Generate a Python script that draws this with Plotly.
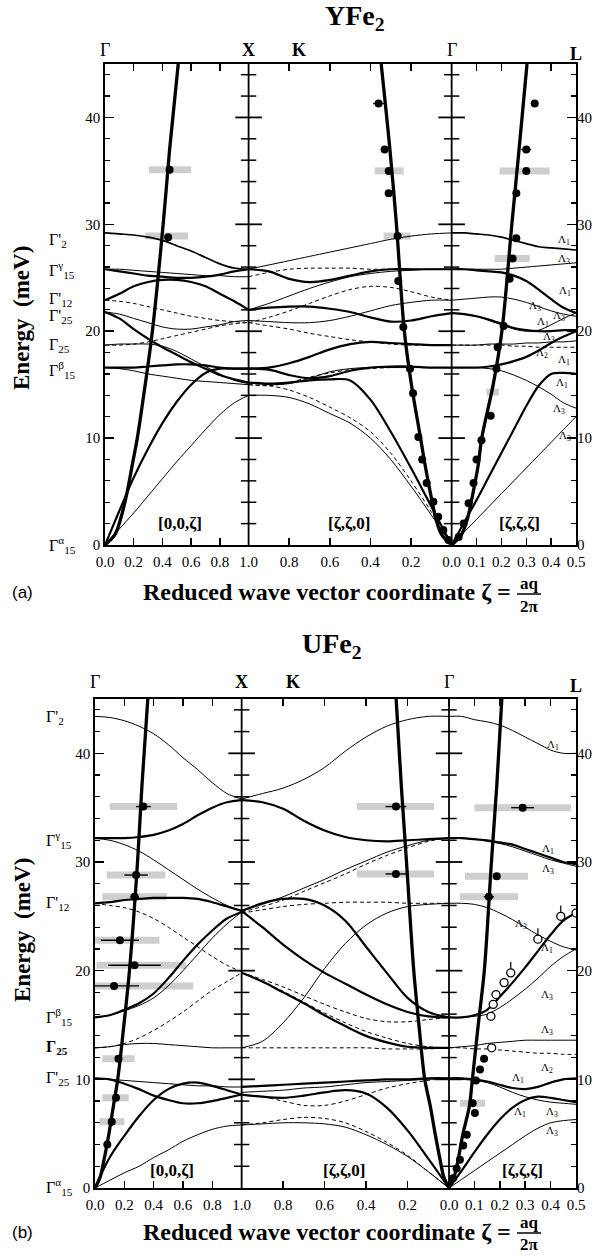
import numpy as np
import plotly.graph_objects as go

SQ2, SQ3 = np.sqrt(2.0), np.sqrt(3.0)
S_X = 1.0
S_G = 1.0 + SQ2
S_L = S_G + 0.5 * SQ3


def s_of(p, z):
    z = np.asarray(z, float)
    if p == 0:
        return z
    if p == 1:
        return 1.0 + (1.0 - z) * SQ2
    return S_G + z * SQ3


# zeta grids of the three directions: [0,0,z] G->X, [z,z,0] X(K)->G, [z,z,z] G->L
Z1 = [0.0, 0.1, 0.2, 0.3, 0.4, 0.5, 0.6, 0.7, 0.8, 0.9, 1.0]
Z2 = [1.0, 0.9, 0.8, 0.7, 0.6, 0.5, 0.4, 0.3, 0.2, 0.1, 0.0]
Z3 = [0.0, 0.05, 0.1, 0.15, 0.2, 0.25, 0.3, 0.35, 0.4, 0.45, 0.5]
GRIDS = [Z1, Z2, Z3]

# ---------------- YFe2 phonon branches (meV) ----------------
YFE2_P1 = [
    ('med',  [29.2, 29.1, 29.0, 28.8, 28.5, 28.0, 27.5, 26.9, 26.3, 25.9, 25.8]),
    ('thin', [25.8, 25.8, 25.7, 25.6, 25.5, 25.4, 25.3, 25.2, 25.2, 25.1, 25.1]),
    ('thick', [25.8, 25.6, 25.4, 25.2, 25.1, 25.0, 25.0, 25.1, 25.3, 25.6, 25.8]),
    ('thick', [22.9, 23.5, 24.2, 24.6, 24.8, 24.8, 24.6, 24.2, 23.5, 22.8, 22.0]),
    ('dash', [22.9, 22.8, 22.6, 22.3, 22.0, 21.7, 21.4, 21.2, 21.0, 20.9, 20.8]),
    ('thin', [21.8, 21.6, 21.2, 20.8, 20.4, 20.2, 20.2, 20.4, 20.6, 20.9, 21.0]),
    ('thick', [21.8, 21.2, 20.2, 19.3, 18.5, 17.8, 17.1, 16.5, 15.9, 15.5, 15.2]),
    ('dash', [18.7, 18.7, 18.8, 19.0, 19.3, 19.6, 19.9, 20.2, 20.5, 20.7, 20.8]),
    ('thin', [18.7, 18.8, 18.8, 18.8, 18.6, 18.1, 17.4, 16.7, 16.0, 15.4, 15.1]),
    ('thick', [16.6, 16.6, 16.6, 16.7, 16.8, 16.9, 16.9, 16.8, 16.6, 16.5, 16.5]),
    ('thin', [16.6, 16.5, 16.3, 16.0, 15.8, 15.6, 15.4, 15.3, 15.2, 15.1, 15.0]),
    ('thick', [0.0, 3.2, 6.3, 9.0, 11.4, 13.4, 15.0, 16.1, 16.5, 16.5, 16.5]),
    ('thin', [0.0, 1.5, 3.0, 4.6, 6.2, 7.8, 9.3, 10.8, 12.2, 13.3, 14.0]),
]
YFE2_P2 = [
    ('thin', [25.8, 26.2, 26.6, 27.0, 27.4, 27.8, 28.2, 28.6, 28.9, 29.1, 29.2]),
    ('thick', [25.8, 25.6, 24.9, 24.6, 24.8, 25.2, 25.6, 25.8, 25.8, 25.8, 25.8]),
    ('dash', [25.1, 25.5, 25.8, 25.9, 25.9, 25.9, 25.8, 25.8, 25.8, 25.8, 25.8]),
    ('thin', [22.0, 22.6, 23.3, 24.0, 24.6, 25.1, 25.4, 25.6, 25.7, 25.8, 25.8]),
    ('dash', [20.8, 21.3, 21.9, 22.6, 23.3, 23.9, 24.2, 24.1, 23.7, 23.2, 22.9]),
    ('thin', [21.0, 20.9, 20.8, 20.8, 21.0, 21.4, 21.9, 22.4, 22.7, 22.9, 22.9]),
    ('thick', [22.0, 22.2, 22.3, 22.3, 22.1, 21.8, 21.3, 20.9, 21.0, 21.4, 21.7]),
    ('dash', [20.8, 20.5, 20.2, 19.8, 19.5, 19.2, 19.0, 18.8, 18.7, 18.7, 18.7]),
    ('thick', [16.5, 16.6, 17.0, 17.6, 18.3, 18.8, 19.0, 18.9, 18.8, 18.7, 18.7]),
    ('thin', [15.2, 15.0, 15.1, 15.6, 16.2, 16.5, 16.6, 16.6, 16.6, 16.6, 16.6]),
    ('dash', [15.0, 14.9, 15.2, 15.7, 16.1, 16.4, 16.5, 16.6, 16.6, 16.6, 16.6]),
    ('thick', [16.5, 16.4, 15.9, 15.6, 15.8, 16.3, 16.6, 16.7, 16.7, 16.6, 16.6]),
    ('thick', [15.2, 15.1, 15.2, 15.4, 15.5, 15.4, 13.6, 10.6, 7.2, 3.6, 0.0]),
    ('dash', [15.0, 14.9, 14.5, 13.8, 12.9, 11.9, 10.6, 8.6, 6.0, 3.1, 0.0]),
    ('thin', [14.0, 14.0, 13.8, 13.2, 12.3, 11.4, 10.0, 8.0, 5.5, 2.8, 0.0]),
]
YFE2_P3 = [
    ('med',  [29.2, 29.2, 29.1, 29.0, 28.8, 28.5, 28.2, 27.9, 27.8, 27.7, 27.6]),
    ('thin', [25.8, 25.8, 25.8, 25.8, 25.8, 25.9, 26.0, 26.1, 26.2, 26.3, 26.4]),
    ('thick', [25.8, 25.8, 25.7, 25.6, 25.5, 25.2, 24.7, 23.9, 23.0, 22.2, 21.7]),
    ('thin', [22.9, 23.0, 23.1, 23.2, 23.2, 23.0, 22.7, 22.3, 21.9, 21.6, 21.4]),
    ('thick', [21.7, 21.6, 21.4, 21.1, 20.7, 20.3, 20.1, 20.0, 20.0, 20.1, 20.1]),
    ('thin', [21.7, 21.6, 21.4, 21.0, 20.6, 20.2, 20.0, 20.1, 20.6, 21.2, 21.7]),
    ('thin', [18.7, 18.7, 18.7, 18.8, 18.8, 18.8, 18.9, 18.9, 19.0, 19.0, 19.1]),
    ('dash', [18.7, 18.7, 18.7, 18.7, 18.7, 18.6, 18.6, 18.5, 18.5, 18.5, 18.5]),
    ('thin', [16.6, 16.6, 16.6, 16.5, 16.3, 15.9, 15.4, 14.8, 14.1, 13.3, 12.8]),
    ('thick', [16.6, 16.6, 16.6, 16.7, 16.9, 17.2, 17.6, 18.2, 18.9, 19.5, 20.0]),
    ('thick', [0.0, 2.1, 4.2, 6.4, 8.6, 10.8, 13.0, 14.9, 16.0, 16.1, 16.0]),
    ('thin', [0.0, 1.2, 2.4, 3.6, 4.8, 6.0, 7.2, 8.4, 9.6, 10.8, 12.0]),
]

# ---------------- UFe2 phonon branches (meV) ----------------
UFE2_P1 = [
    ('thin', [43.4, 43.3, 43.0, 42.5, 41.8, 40.8, 39.6, 38.5, 37.3, 36.3, 35.8]),
    ('thick', [32.2, 32.2, 32.2, 32.3, 32.5, 32.9, 33.5, 34.3, 35.0, 35.5, 35.7]),
    ('thin', [32.2, 32.0, 31.6, 31.0, 30.2, 29.3, 28.4, 27.5, 26.7, 26.0, 25.5]),
    ('thick', [26.2, 26.3, 26.5, 26.6, 26.7, 26.7, 26.7, 26.6, 26.3, 25.9, 25.5]),
    ('dash', [26.2, 26.0, 25.8, 25.4, 24.8, 24.0, 23.1, 22.2, 21.3, 20.5, 19.9]),
    ('thick', [15.7, 15.9, 16.4, 17.0, 17.9, 19.3, 20.9, 22.4, 23.7, 24.8, 25.4]),
    ('thin', [15.7, 15.9, 16.3, 16.8, 17.5, 18.6, 20.0, 21.5, 23.0, 24.3, 25.4]),
    ('dash', [12.9, 13.0, 13.3, 13.8, 14.5, 15.3, 16.2, 17.2, 18.2, 19.0, 19.8]),
    ('thin', [12.9, 13.0, 13.2, 13.3, 13.3, 13.2, 13.1, 13.0, 12.9, 12.9, 12.9]),
    ('thick', [10.1, 10.0, 9.6, 9.1, 8.5, 8.1, 7.8, 7.8, 8.0, 8.3, 8.6]),
    ('thin', [10.1, 10.0, 9.9, 9.8, 9.7, 9.6, 9.5, 9.4, 9.4, 9.3, 9.3]),
    ('thick', [0.0, 2.8, 4.8, 6.6, 8.1, 9.1, 9.6, 9.7, 9.4, 9.0, 8.6]),
    ('thin', [0.0, 0.7, 1.4, 2.0, 2.8, 3.5, 4.3, 4.9, 5.4, 5.7, 5.8]),
]
UFE2_P2 = [
    ('thin', [35.8, 36.3, 36.8, 37.6, 38.7, 40.2, 41.5, 42.5, 43.1, 43.4, 43.4]),
    ('thick', [35.7, 35.5, 34.9, 33.8, 32.9, 32.3, 32.0, 31.9, 32.0, 32.1, 32.2]),
    ('thin', [25.5, 26.1, 26.8, 27.6, 28.4, 29.3, 30.1, 30.9, 31.5, 32.0, 32.2]),
    ('dash', [25.4, 25.9, 26.5, 27.3, 28.1, 28.9, 29.8, 30.6, 31.3, 31.9, 32.2]),
    ('thick', [25.5, 26.2, 26.6, 26.6, 26.0, 24.6, 22.2, 19.8, 17.5, 16.2, 15.7]),
    ('dash', [25.3, 25.6, 25.9, 26.1, 26.2, 26.3, 26.3, 26.3, 26.2, 26.2, 26.2]),
    ('thin', [12.9, 13.5, 15.2, 17.5, 20.2, 22.5, 24.2, 25.3, 25.9, 26.1, 26.2]),
    ('thick', [25.5, 24.0, 22.4, 21.0, 19.8, 18.8, 17.8, 16.9, 16.2, 15.8, 15.7]),
    ('thick', [19.8, 19.0, 18.0, 17.0, 15.9, 14.9, 14.0, 13.4, 13.0, 12.9, 12.9]),
    ('dash', [19.8, 19.2, 18.5, 17.7, 16.9, 16.2, 15.6, 15.3, 15.3, 15.5, 15.7]),
    ('dash', [19.8, 19.0, 18.1, 17.1, 16.1, 15.2, 14.4, 13.8, 13.3, 13.0, 12.9]),
    ('dash', [12.9, 12.9, 12.9, 12.9, 12.9, 12.9, 12.9, 12.8, 12.8, 12.8, 12.9]),
    ('thick', [9.3, 9.4, 9.5, 9.6, 9.7, 9.8, 9.9, 10.0, 10.0, 10.1, 10.1]),
    ('thin', [8.8, 8.9, 9.0, 9.2, 9.3, 9.5, 9.7, 9.8, 9.9, 10.0, 10.1]),
    ('dash', [8.6, 8.4, 8.0, 7.6, 7.6, 8.0, 8.6, 9.2, 9.6, 9.9, 10.1]),
    ('thick', [8.6, 8.4, 8.3, 8.5, 8.8, 9.0, 8.7, 7.4, 5.3, 2.7, 0.0]),
    ('thin', [5.8, 5.9, 6.0, 6.0, 5.9, 5.6, 4.9, 4.0, 2.9, 1.5, 0.0]),
    ('dash', [5.8, 6.0, 6.3, 6.5, 6.4, 6.0, 5.2, 4.2, 3.0, 1.5, 0.0]),
]
UFE2_P3 = [
    ('thin', [43.4, 43.4, 43.1, 42.9, 42.6, 42.1, 41.5, 40.9, 40.3, 40.0, 40.0]),
    ('thick', [32.2, 32.2, 32.1, 32.0, 31.8, 31.6, 31.2, 30.8, 30.4, 30.0, 29.8]),
    ('thin', [32.2, 32.2, 32.1, 31.9, 31.7, 31.4, 31.0, 30.6, 30.2, 29.9, 29.6]),
    ('thin', [26.2, 26.2, 26.1, 25.8, 25.3, 24.7, 24.0, 23.3, 22.7, 22.2, 21.9]),
    ('thick', [15.7, 15.7, 15.9, 16.4, 17.6, 18.9, 20.3, 21.8, 23.3, 24.6, 25.3]),
    ('thin', [15.7, 15.7, 15.8, 16.0, 16.6, 17.4, 18.3, 19.3, 20.4, 21.3, 22.0]),
    ('thin', [12.9, 13.0, 13.1, 13.3, 13.4, 13.5, 13.6, 13.6, 13.6, 13.6, 13.6]),
    ('dash', [12.9, 12.9, 12.8, 12.8, 12.7, 12.6, 12.5, 12.4, 12.4, 12.3, 12.3]),
    ('thick', [10.1, 10.1, 10.0, 9.8, 9.5, 9.2, 9.1, 9.3, 9.7, 10.0, 10.1]),
    ('thin', [10.1, 10.0, 9.9, 9.7, 9.3, 8.8, 8.4, 8.1, 7.9, 7.8, 7.7]),
    ('thick', [0.0, 1.6, 3.3, 4.9, 6.3, 7.4, 8.1, 8.4, 8.3, 8.1, 7.9]),
    ('thin', [0.0, 0.8, 1.6, 2.4, 3.2, 4.0, 4.8, 5.5, 6.0, 6.2, 6.3]),
]

# ---------------- spin-wave (magnon) dispersion ----------------
MAG_A_E = [0, 1, 2.5, 5, 7.5, 10, 15, 20, 30, 37, 45]
MAG_A_Z1 = [0, 0.07, 0.11, 0.155, 0.19, 0.225, 0.28, 0.33, 0.405, 0.45, 0.51]
MAG_A_Z2 = [0, 0.05, 0.078, 0.106, 0.131, 0.153, 0.198, 0.233, 0.272, 0.304, 0.347]
MAG_A_Z3 = [0, 0.04, 0.064, 0.087, 0.107, 0.121, 0.167, 0.202, 0.242, 0.271, 0.303]
MAG_B_E = [0, 1, 2.5, 5, 7.5, 10, 15, 20, 30, 37, 45]
MAG_B_Z1 = [0, 0.035, 0.06, 0.095, 0.125, 0.155, 0.197, 0.235, 0.29, 0.32, 0.36]
MAG_B_Z2 = [0, 0.025, 0.042, 0.067, 0.09, 0.117, 0.145, 0.17, 0.205, 0.23, 0.255]
MAG_B_Z3 = [0, 0.02, 0.035, 0.055, 0.08, 0.092, 0.115, 0.139, 0.167, 0.188, 0.208]

# ---------------- measured points (zeta, E, horizontal error in zeta) ----------------
PTS_A1_Z = [0.44, 0.45]
PTS_A1_E = [28.8, 35.1]
PTS_A1_DZ = [0, 0]
PTS_A2_Z = [0.36, 0.33, 0.31, 0.31, 0.266, 0.263, 0.238, 0.205, 0.19, 0.164, 0.145, 0.123, 0.09, 0.066, 0.041, 0.016]
PTS_A2_E = [41.3, 37.0, 35.0, 32.9, 28.9, 24.7, 20.4, 16.5, 14.2, 10.1, 8.0, 5.8, 4.05, 2.65, 1.4, 0.47]
PTS_A2_DZ = [0.027, 0, 0, 0, 0, 0, 0, 0, 0, 0, 0, 0, 0, 0, 0, 0]
PTS_A3_Z = [0.334, 0.30, 0.30, 0.26, 0.26, 0.245, 0.233, 0.209, 0.185, 0.18, 0.157, 0.12, 0.10, 0.088, 0.068, 0.048, 0.028]
PTS_A3_E = [41.3, 37.0, 35.0, 32.9, 28.7, 26.8, 24.9, 20.5, 18.5, 16.5, 12.1, 9.8, 8.0, 5.8, 3.9, 2.0, 0.75]
PTS_A3_DZ = [0, 0.02, 0, 0, 0, 0, 0, 0, 0, 0, 0, 0, 0, 0, 0, 0, 0]

PTS_B1_Z = [0.33, 0.28, 0.27, 0.17, 0.27, 0.13, 0.16, 0.143, 0.114, 0.084]
PTS_B1_E = [35.1, 28.8, 26.8, 22.8, 20.5, 18.6, 11.9, 8.3, 6.1, 4.0]
PTS_B1_DZ = [0.05, 0.08, 0.03, 0.13, 0.18, 0.17, 0, 0, 0, 0]
PTS_B2_Z = [0.256, 0.256]
PTS_B2_E = [35.1, 28.9]
PTS_B2_DZ = [0.05, 0.05]
PTS_B3_Z = [0.29, 0.188, 0.157, 0.138, 0.122, 0.106, 0.102, 0.093, 0.07, 0.056, 0.043, 0.03, 0.016]
PTS_B3_E = [35.0, 28.7, 26.8, 11.9, 10.9, 9.9, 6.9, 7.8, 4.9, 3.9, 2.6, 1.8, 0.9]
PTS_B3_DZ = [0.045, 0, 0.02, 0, 0, 0, 0, 0, 0, 0, 0, 0, 0]
OPEN_B3_Z = [0.5, 0.44, 0.35, 0.243, 0.217, 0.185, 0.174, 0.165, 0.168]
OPEN_B3_E = [25.3, 25.0, 22.9, 19.8, 18.9, 17.8, 16.9, 15.8, 12.9]
OPEN_B3_UP = [0, 1.0, 1.0, 1.0, 0, 0, 0, 0, 0]

# ---------------- resolution boxes (panel, E, zeta_lo, zeta_hi) ----------------
BOX_A = [(0, 35.1, 0.306, 0.60), (0, 28.9, 0.279, 0.578),
         (1, 35.0, 0.236, 0.379), (1, 28.9, 0.202, 0.335),
         (2, 35.0, 0.193, 0.394), (2, 26.8, 0.173, 0.314), (2, 14.3, 0.14, 0.19)]
BOX_B = [(0, 35.1, 0.10, 0.56), (0, 28.8, 0.08, 0.48), (0, 26.8, 0.05, 0.49),
         (0, 22.8, 0.0, 0.44), (0, 20.5, 0.01, 0.62), (0, 18.6, 0.0, 0.67),
         (0, 11.9, 0.05, 0.27), (0, 8.3, 0.05, 0.23), (0, 6.1, 0.03, 0.20),
         (1, 35.1, 0.072, 0.444), (1, 28.9, 0.072, 0.444),
         (2, 35.0, 0.10, 0.48), (2, 28.7, 0.063, 0.311), (2, 26.8, 0.043, 0.272),
         (2, 7.8, 0.043, 0.142)]

# ---------------- labels ----------------
GAMMA_A_T = ["Γ'<sub>2</sub>", "Γ<sup>γ</sup><sub>15</sub>", "Γ'<sub>12</sub>", "Γ'<sub>25</sub>",
             "Γ<sub>25</sub>", "Γ<sup>β</sup><sub>15</sub>", "Γ<sup>α</sup><sub>15</sub>"]
GAMMA_A_E = [28.5, 25.7, 23.0, 21.4, 18.7, 16.4, 0.0]
GAMMA_B_T = ["Γ'<sub>2</sub>", "Γ<sup>γ</sup><sub>15</sub>", "Γ'<sub>12</sub>", "Γ<sup>β</sup><sub>15</sub>",
             "<b>Γ<sub>25</sub></b>", "Γ'<sub>25</sub>", "Γ<sup>α</sup><sub>15</sub>"]
GAMMA_B_E = [43.3, 32.0, 26.2, 15.7, 12.9, 10.1, 0.1]

LAM_A_Z = [0.45, 0.45, 0.455, 0.334, 0.366, 0.43, 0.39, 0.362, 0.45, 0.442, 0.43, 0.455]
LAM_A_E = [28.5, 26.8, 23.8, 22.4, 20.9, 21.4, 19.5, 18.0, 17.3, 15.2, 12.7, 10.2]
LAM_A_T = ['1', '3', '1', '3', '1', '3', '3', '2', '1', '1', '3', '3']
LAM_B_Z = [0.41, 0.39, 0.39, 0.283, 0.386, 0.386, 0.386, 0.386, 0.27, 0.28, 0.405, 0.405]
LAM_B_E = [40.8, 31.2, 29.4, 24.3, 22.1, 17.8, 14.5, 11.0, 10.1, 7.0, 7.0, 5.2]
LAM_B_T = ['1', '1', '3', '3', '1', '3', '3', '2', '1', '1', '3', '3']

TICK_Z = [(0, [0.0, 0.2, 0.4, 0.6, 0.8, 1.0]), (1, [0.8, 0.6, 0.4, 0.2, 0.0]), (2, [0.1, 0.2, 0.3, 0.4, 0.5])]
TICK_TEXT = ['0.0', '0.2', '0.4', '0.6', '0.8', '1.0', '0.8', '0.6', '0.4', '0.2', '0.0',
             '0.1', '0.2', '0.3', '0.4', '0.5']
E_MAJOR = [0, 10, 20, 30, 40]
E_MINOR_MARKS = [2, 4, 6, 8, 12, 14, 16, 18, 22, 24, 26, 28, 32, 34, 36, 38, 42, 44]
E_MAJOR_MARKS = [10, 20, 30, 40]

SERIF = 'Liberation Serif'
W, H = 598, 1257
fig = go.Figure()

WIDTH = {'thick': 2.2, 'med': 1.7, 'thin': 1.0, 'dash': 1.0, 'mag': 3.3}


def add_line(xs, ys, style, xa, ya):
    fig.add_trace(go.Scatter(
        x=list(xs), y=list(ys), mode='lines', xaxis=xa, yaxis=ya,
        line=dict(color='black', width=WIDTH[style],
                  dash='4px,3px' if style == 'dash' else 'solid',
                  shape='spline', smoothing=0.9),
        hoverinfo='skip', showlegend=False))


def build(panels, mags, mag_e, boxes, pts, xa, ya):
    bx, by = [], []
    for p, e, z0, z1 in boxes:
        bx += [float(s_of(p, z0)), float(s_of(p, z1)), None]
        by += [e, e, None]
    fig.add_trace(go.Scatter(x=bx, y=by, mode='lines', xaxis=xa, yaxis=ya,
                             line=dict(color='rgba(165,165,165,0.55)', width=7),
                             hoverinfo='skip', showlegend=False))
    for p, branches in enumerate(panels):
        for style, ev in branches:
            add_line(s_of(p, GRIDS[p]), ev, style, xa, ya)
    for p, zm in enumerate(mags):
        add_line(s_of(p, zm), mag_e, 'mag', xa, ya)
    for sx in (S_X, S_G):
        fig.add_trace(go.Scatter(x=[sx, sx], y=[0, 45], mode='lines', xaxis=xa, yaxis=ya,
                                 line=dict(color='black', width=1.8), hoverinfo='skip', showlegend=False))
        fig.add_trace(go.Scatter(x=[sx] * len(E_MINOR_MARKS), y=E_MINOR_MARKS, mode='markers',
                                 xaxis=xa, yaxis=ya,
                                 marker=dict(symbol='line-ew', size=11, line=dict(width=1.5, color='black')),
                                 hoverinfo='skip', showlegend=False))
        fig.add_trace(go.Scatter(x=[sx] * len(E_MAJOR_MARKS), y=E_MAJOR_MARKS, mode='markers',
                                 xaxis=xa, yaxis=ya,
                                 marker=dict(symbol='line-ew', size=19, line=dict(width=1.8, color='black')),
                                 hoverinfo='skip', showlegend=False))
    for p, zz, ee, dz in pts:
        fac = [1.0, SQ2, SQ3][p]
        fig.add_trace(go.Scatter(
            x=list(s_of(p, zz)), y=ee, mode='markers', xaxis=xa, yaxis=ya,
            marker=dict(color='black', size=8),
            error_x=dict(type='data', array=[d * fac for d in dz], color='black', thickness=1.4, width=0),
            hoverinfo='skip', showlegend=False))


build([YFE2_P1, YFE2_P2, YFE2_P3], [MAG_A_Z1, MAG_A_Z2, MAG_A_Z3], MAG_A_E, BOX_A,
      [(0, PTS_A1_Z, PTS_A1_E, PTS_A1_DZ), (1, PTS_A2_Z, PTS_A2_E, PTS_A2_DZ),
       (2, PTS_A3_Z, PTS_A3_E, PTS_A3_DZ)], 'x', 'y')
build([UFE2_P1, UFE2_P2, UFE2_P3], [MAG_B_Z1, MAG_B_Z2, MAG_B_Z3], MAG_B_E, BOX_B,
      [(0, PTS_B1_Z, PTS_B1_E, PTS_B1_DZ), (1, PTS_B2_Z, PTS_B2_E, PTS_B2_DZ),
       (2, PTS_B3_Z, PTS_B3_E, PTS_B3_DZ)], 'x2', 'y2')

fig.add_trace(go.Scatter(
    x=list(s_of(2, OPEN_B3_Z)), y=OPEN_B3_E, mode='markers', xaxis='x2', yaxis='y2',
    marker=dict(color='white', size=8, line=dict(color='black', width=1.3)),
    error_y=dict(type='data', symmetric=False, array=OPEN_B3_UP, arrayminus=[0] * len(OPEN_B3_UP),
                 color='black', thickness=1.2, width=0),
    hoverinfo='skip', showlegend=False))

fig.add_trace(go.Scatter(x=[None], y=[None], xaxis='x', yaxis='y3', showlegend=False))
fig.add_trace(go.Scatter(x=[None], y=[None], xaxis='x2', yaxis='y4', showlegend=False))

tick_s = []
for p, zs in TICK_Z:
    tick_s += [float(v) for v in s_of(p, zs)]

TF = dict(family=SERIF, size=15, color='black')


def xax(dom, anchor):
    return dict(domain=dom, anchor=anchor, range=[0, S_L], tickvals=tick_s, ticktext=TICK_TEXT,
                ticks='inside', ticklen=7, tickwidth=1.5, tickcolor='black', mirror='ticks',
                showline=True, linewidth=1.8, linecolor='black', showgrid=False, zeroline=False,
                tickfont=TF, ticklabelstandoff=2, automargin=False, fixedrange=True)


def yax(dom, anchor):
    return dict(domain=dom, anchor=anchor, range=[0, 45], tickvals=E_MAJOR, ticks='inside',
                ticklen=9, tickwidth=1.5, tickcolor='black', mirror='ticks', showline=True,
                linewidth=1.8, linecolor='black', showgrid=False, zeroline=False, tickfont=TF,
                automargin=False, fixedrange=True,
                minor=dict(dtick=2, ticks='inside', ticklen=5, tickwidth=1.2, tickcolor='black',
                           showgrid=False))


def yright(over, anchor):
    return dict(overlaying=over, anchor=anchor, side='right', range=[0, 45], tickvals=E_MAJOR,
                ticks='', showline=False, showgrid=False, zeroline=False, tickfont=TF,
                automargin=False, fixedrange=True)


DOM_AX = [105 / W, 576 / W]
DOM_BX = [95 / W, 576 / W]
DOM_AY = [1 - 545 / H, 1 - 64 / H]
DOM_BY = [1 - 1188 / H, 1 - 699 / H]

ann = []


def A(text, x, y, size=15, xref='paper', yref='paper', xanchor='center', yanchor='middle', family=SERIF,
      angle=0):
    ann.append(dict(text=text, x=x, y=y, xref=xref, yref=yref, xanchor=xanchor, yanchor=yanchor,
                    showarrow=False, textangle=angle, font=dict(family=family, size=size, color='black')))


A('<b>YFe<sub>2</sub></b>', 355 / W, 1 - 18 / H, size=28)
A('<b>UFe<sub>2</sub></b>', 332 / W, 1 - 645 / H, size=28)

for xa, ytop in (('x', 50), ('x2', 682)):
    A('Γ', 0.0, 1 - ytop / H, size=18, xref=xa)
    A('<b>X</b>', S_X, 1 - ytop / H, size=18, xref=xa)
    A('<b>K</b>', float(s_of(1, 0.75)), 1 - ytop / H, size=18, xref=xa)
    A('Γ', S_G, 1 - ytop / H, size=18, xref=xa)
    A('<b>L</b>', S_L, 1 - (ytop + 4) / H, size=18, xref=xa)

for ycen in (318, 930):
    A('<b>Energy  (meV)</b>', 22 / W, 1 - ycen / H, size=23, angle=-90)
for yc, ya_, yb_, lab in ((592, 583, 606, '(a)'), (1232, 1222, 1244, '(b)')):
    A('<b>Reduced wave vector coordinate ζ =</b>', 513 / W, 1 - yc / H, size=24, xanchor='right')
    A('<b>aq</b>', 529 / W, 1 - ya_ / H, size=17)
    A('<b>2π</b>', 529 / W, 1 - yb_ / H, size=17)
    A(lab, 22 / W, 1 - yc / H, size=17, family='Liberation Sans')

for yb, xs in ((523, (180, 349, 519)), (1170, (172, 344, 522))):
    for txt, xx in zip(('<b>[0,0,ζ]</b>', '<b>[ζ,ζ,0]</b>', '<b>[ζ,ζ,ζ]</b>'), xs):
        A(txt, xx / W, 1 - yb / H, size=17)

for t, e in zip(GAMMA_A_T, GAMMA_A_E):
    A(t, 47 / W, e, size=16, yref='y', xanchor='left')
for t, e in zip(GAMMA_B_T, GAMMA_B_E):
    A(t, 44 / W, e, size=16, yref='y2', xanchor='left')

for z, e, t in zip(LAM_A_Z, LAM_A_E, LAM_A_T):
    A('Λ<sub>%s</sub>' % t, float(s_of(2, z)), e, size=11, xref='x', yref='y')
for z, e, t in zip(LAM_B_Z, LAM_B_E, LAM_B_T):
    A('Λ<sub>%s</sub>' % t, float(s_of(2, z)), e, size=11, xref='x2', yref='y2')

shapes = []
for yl in (594, 1233):
    shapes.append(dict(type='line', xref='paper', yref='paper', x0=517 / W, x1=541 / W,
                       y0=1 - yl / H, y1=1 - yl / H, line=dict(color='black', width=1.5)))

fig.update_layout(
    width=W, height=H, margin=dict(l=0, r=0, t=0, b=0, pad=0), autosize=False,
    paper_bgcolor='white', plot_bgcolor='white', showlegend=False, hovermode=False,
    xaxis=xax(DOM_AX, 'y'), yaxis=yax(DOM_AY, 'x'),
    xaxis2=xax(DOM_BX, 'y2'), yaxis2=yax(DOM_BY, 'x2'),
    yaxis3=yright('y', 'x'), yaxis4=yright('y2', 'x2'),
    annotations=ann, shapes=shapes,
)

fig.write_html('out.html', config={'displayModeBar': False, 'staticPlot': True},
               post_script="document.body.style.margin='0';document.body.style.overflow='hidden';")
